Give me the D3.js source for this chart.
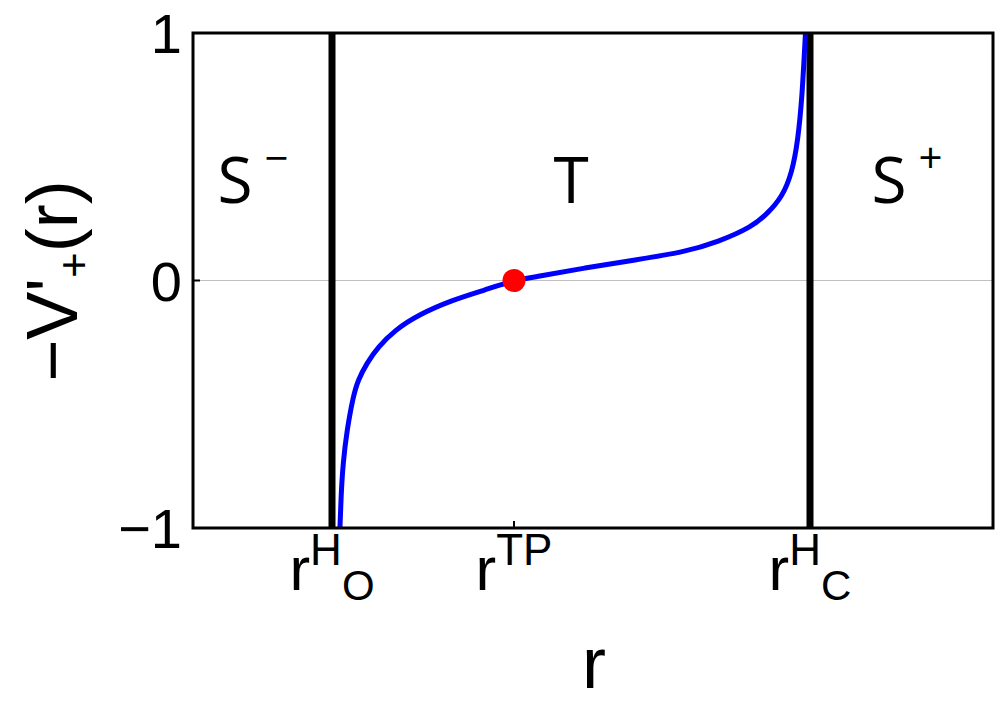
<!DOCTYPE html>
<html>
<head>
<meta charset="utf-8">
<script src="https://cdn.jsdelivr.net/npm/d3@7"></script>
<style>
  html, body { margin: 0; padding: 0; background: #fff; }
  svg { display: block; }
  text { font-family: "Liberation Sans", Arial, sans-serif; fill: #000; }
  .region { font-family: "Open Sans", "Noto Sans", sans-serif; }
</style>
</head>
<body>
<svg id="chart" width="997" height="722"></svg>
<script>
// Curve -V'_+(r) (r in arbitrary units)
const curveR = [1.465, 1.47, 1.48, 1.50, 1.54, 1.60, 1.65, 1.74, 1.85, 2.02, 2.25, 2.59, 2.92, 3.21,
                3.42, 3.92, 4.42, 4.92, 5.25, 5.59, 5.75, 5.89, 5.99, 6.05, 6.09, 6.11, 6.125, 6.135];
const curveV = [-1.05, -0.996, -0.875, -0.737, -0.604, -0.471, -0.402, -0.333, -0.269, -0.200, -0.139, -0.079, -0.038, 0.0,
                0.014, 0.051, 0.083, 0.115, 0.156, 0.216, 0.273, 0.337, 0.434, 0.568, 0.741, 0.891, 1.0, 1.08];

// Special radii
const horizons = [1.39, 6.17];
const turningPoint = [3.21, 0];

// Axis ticks
const xTickValues = [1.39, 3.21, 6.17];
const xTickSup = ['H', 'TP', 'H'];
const xTickSub = ['O', '', 'C'];
const yTickValues = [-1, 0, 1];
const yTickLabels = ['\u22121', '0', '1'];

// Region labels
const regionNames = ['S', 'T', 'S'];
const regionSup = ['\u2212', '', '+'];
const regionR = [0.60, 3.78, 7.14];
const regionV = [0.50, 0.50, 0.50];

const svg = d3.select('#chart');
const margin = { top: 33, right: 4, bottom: 194, left: 193 };
const width = 997 - margin.left - margin.right;
const height = 722 - margin.top - margin.bottom;

const x = d3.scaleLinear().domain([0, 8]).range([margin.left, margin.left + width]);
const y = d3.scaleLinear().domain([-1, 1]).range([margin.top + height, margin.top]);

svg.append('defs').append('clipPath').attr('id', 'plotClip')
  .append('rect')
  .attr('x', margin.left).attr('y', margin.top)
  .attr('width', width).attr('height', height);

// zero line
svg.append('line')
  .attr('x1', x(0)).attr('x2', x(8))
  .attr('y1', y(0)).attr('y2', y(0))
  .style('stroke', '#c0c0c0').style('stroke-width', 1.2);

// small ticks inside the frame
svg.append('line')
  .attr('x1', x(turningPoint[0])).attr('x2', x(turningPoint[0]))
  .attr('y1', y(-1)).attr('y2', y(-1) - 7)
  .style('stroke', '#000').style('stroke-width', 2);
svg.append('line')
  .attr('x1', x(0)).attr('x2', x(0) + 7)
  .attr('y1', y(0)).attr('y2', y(0))
  .style('stroke', '#000').style('stroke-width', 2);

// horizons
svg.selectAll('.horizon')
  .data(horizons)
  .enter()
  .append('line')
  .attr('class', 'horizon')
  .attr('x1', d => x(d)).attr('x2', d => x(d))
  .attr('y1', y(1)).attr('y2', y(-1))
  .style('stroke', '#000').style('stroke-width', 7);

// curve (basis spline smooths the hand-read points)
const pts = curveR.map((r, i) => [r, curveV[i]]);
const line = d3.line()
  .x(d => x(d[0]))
  .y(d => y(d[1]))
  .curve(d3.curveBasis);

svg.append('path')
  .datum(pts)
  .attr('clip-path', 'url(#plotClip)')
  .attr('d', line)
  .style('fill', 'none')
  .style('stroke', '#0000ff')
  .style('stroke-width', 5);

// turning point
svg.append('circle')
  .attr('cx', x(turningPoint[0]))
  .attr('cy', y(turningPoint[1]))
  .attr('r', 11.5)
  .style('fill', '#ff0000');

// frame
svg.append('rect')
  .attr('x', margin.left).attr('y', margin.top)
  .attr('width', width).attr('height', height)
  .style('fill', 'none').style('stroke', '#000').style('stroke-width', 3);

// y tick labels
svg.selectAll('.ytick')
  .data(yTickValues)
  .enter()
  .append('text')
  .attr('class', 'ytick')
  .attr('x', margin.left - 11)
  .attr('y', d => y(d))
  .attr('dy', '0.36em')
  .attr('text-anchor', 'end')
  .style('font-size', '56px')
  .text((d, i) => yTickLabels[i]);

// x tick labels r^sup_sub
xTickValues.forEach((v, i) => {
  const t = svg.append('text')
    .attr('x', x(v))
    .attr('y', 590)
    .attr('text-anchor', 'middle')
    .style('font-size', '62px');
  t.append('tspan').text('r');
  t.append('tspan').attr('dy', -25).style('font-size', '44px').text(xTickSup[i]);
  if (xTickSub[i]) {
    t.append('tspan').attr('dy', 35).style('font-size', '42px').text(xTickSub[i]);
  }
});

// region labels
regionNames.forEach((name, i) => {
  const t = svg.append('text')
    .attr('class', 'region')
    .attr('x', x(regionR[i]))
    .attr('y', y(regionV[i]) + 46)
    .attr('text-anchor', 'middle')
    .style('font-size', '64px');
  t.append('tspan').text(name);
  if (regionSup[i]) {
    t.append('tspan').attr('dx', 12).attr('dy', -30).style('font-size', '42px').text(regionSup[i]);
  }
});

// axis titles
svg.append('text')
  .attr('x', 594)
  .attr('y', 688)
  .attr('text-anchor', 'middle')
  .style('font-size', '72px')
  .text('r');

const yt = svg.append('text')
  .attr('transform', 'translate(77,281) rotate(-90)')
  .attr('text-anchor', 'middle')
  .style('font-size', '72px');
yt.append('tspan').text('\u2212V\'');
yt.append('tspan').attr('dy', 12).style('font-size', '44px').text('+');
yt.append('tspan').attr('dy', -12).text('(r)');
</script>
</body>
</html>
